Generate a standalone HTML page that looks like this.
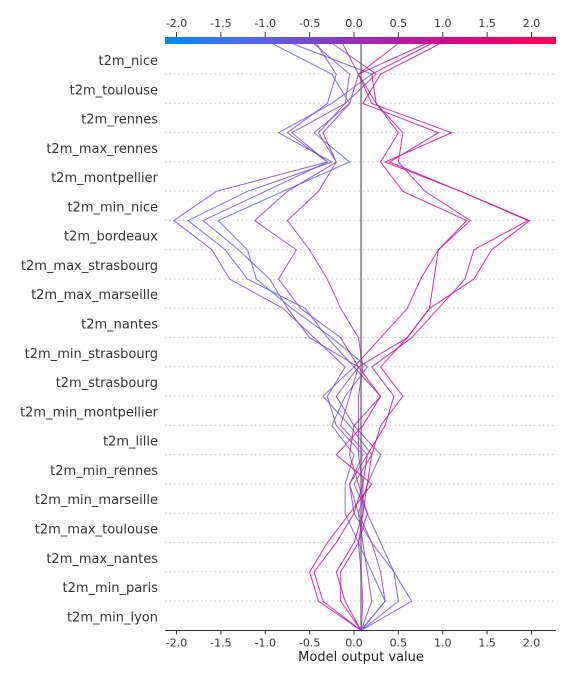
<!DOCTYPE html>
<html><head><meta charset="utf-8"><style>
body{margin:0;background:#fff;}
svg{display:block;font-family:"DejaVu Sans","Liberation Sans",sans-serif;}
</style></head><body>
<svg id="chart" width="576" height="684" viewBox="0 0 576 684">
<defs><linearGradient id="cb" x1="0" x2="1" y1="0" y2="0">
<stop offset="0" stop-color="#008bfb"/><stop offset="0.25" stop-color="#5a62e6"/><stop offset="0.5" stop-color="#9a2cb6"/><stop offset="0.75" stop-color="#d9068a"/><stop offset="1" stop-color="#ff0052"/></linearGradient></defs>
<g id="grid"></g><g id="labels"></g><g id="lines"></g><g id="axes"></g>
</svg>
<script>
const features=["t2m_nice","t2m_toulouse","t2m_rennes","t2m_max_rennes","t2m_montpellier","t2m_min_nice","t2m_bordeaux","t2m_max_strasbourg","t2m_max_marseille","t2m_nantes","t2m_min_strasbourg","t2m_strasbourg","t2m_min_montpellier","t2m_lille","t2m_min_rennes","t2m_min_marseille","t2m_max_toulouse","t2m_max_nantes","t2m_min_paris","t2m_min_lyon"];
const baseValue=0.08;
const ticks=[-2.0,-1.5,-1.0,-0.5,0.0,0.5,1.0,1.5,2.0];
// cumulative values, bottom to top; last entry is the final model output
const lineA=[0.35,0.3,0.2,0.0,-0.05,0.1,-0.2,-0.3,-0.1,-0.45,-0.8,-1.4,-1.6,-2.03,-1.55,-0.3,-0.75,-0.3,-0.2,-0.45];
const lineB=[0.5,0.45,0.3,0.15,0.0,0.2,-0.05,-0.35,0.0,-0.3,-0.55,-1.2,-1.45,-1.87,-1.2,-0.25,-0.85,-0.25,0.2,-0.8];
const lineC=[0.65,0.45,0.2,0.05,0.15,0.3,0.0,-0.2,0.05,-0.5,-0.75,-0.95,-1.3,-1.7,-1.0,-0.3,-0.7,-0.1,-0.05,-0.5];
const lineD=[0.35,0.2,0.05,-0.1,-0.1,0.0,-0.25,-0.1,0.15,-0.25,-0.7,-1.1,-1.2,-1.53,-0.8,-0.05,-0.45,-0.05,-0.25,-1.0];
const lineE=[0.2,0.15,0.1,0.05,-0.05,0.15,-0.15,-0.05,0.05,-0.15,-0.6,-0.85,-0.65,-1.12,-0.75,-0.2,-0.4,-0.1,0.25,-0.3];
const lineF=[0.1,0.08,0.05,0.1,0.1,0.05,0.05,0.05,0.1,0.05,-0.15,-0.3,-0.5,-0.75,-0.4,-0.2,-0.35,-0.05,0.05,-0.15];
const lineG=[-0.4,-0.5,-0.3,-0.05,0.2,-0.2,0.1,0.3,0.05,0.6,0.85,1.35,1.55,1.98,1.2,0.4,0.95,0.1,0.3,1.05];
const lineH=[-0.35,-0.45,-0.2,0.0,0.1,0.15,0.35,0.45,0.2,0.65,0.95,1.25,1.35,1.96,1.2,0.35,1.1,0.2,0.05,0.9];
const lineI=[-0.1,-0.2,0.0,0.1,0.15,0.2,0.3,0.55,0.3,0.6,0.85,0.9,0.95,1.27,0.55,0.3,0.5,0.25,0.2,0.95];
const lineJ=[-0.15,-0.15,0.05,0.15,0.05,-0.05,0.0,0.3,0.0,0.3,0.6,0.75,0.95,1.31,0.8,0.5,0.55,0.25,0.05,0.55];
const series=[lineA,lineB,lineC,lineD,lineE,lineF,lineG,lineH,lineI,lineJ];

const NS="http://www.w3.org/2000/svg";
const X0=165,X1=556,yTop=40,yBot=630.5;
const xS=v=>354+v*88.75;
const rowY=i=>60+i*29.28;
const step=29.28;
function mk(t,a,p){const e=document.createElementNS(NS,t);for(const k in a)e.setAttribute(k,a[k]);p.appendChild(e);return e;}
const grid=document.getElementById('grid'),labels=document.getElementById('labels'),lines=document.getElementById('lines'),axes=document.getElementById('axes');
features.forEach((f,i)=>{
  const y=rowY(i);
  if(i<features.length-1){
    const g=mk('line',{x1:X0,x2:X1,y1:y+14,y2:y+14,stroke:'#c8c8c8','stroke-dasharray':'1.5,3','stroke-width':1},grid);
    
    
  }
  const t=mk('text',{x:158,y:y+5,'text-anchor':'end','font-size':13,fill:'#333'},labels);
  t.textContent=f;
  
  
});
const bl=mk('line',{x1:xS(baseValue),x2:xS(baseValue),y1:yTop,y2:yBot,stroke:'#999','stroke-width':2},lines);


function col(v){
  const t=Math.max(0,Math.min(1,(v+2.1)/4.35));
  const stops=[[0,[0,139,251]],[0.25,[90,98,230]],[0.5,[154,44,182]],[0.75,[217,6,138]],[1,[255,0,82]]];
  for(let k=0;k<4;k++){const[a,ca]=stops[k],[b,cb]=stops[k+1];if(t<=b){const u=(t-a)/(b-a);return 'rgb('+ca.map((c,j)=>Math.round(c+(cb[j]-c)*u)).join(',')+')';}}
  return 'rgb(255,0,82)';
}
series.forEach((s,n)=>{
  const pts=[[xS(baseValue),yBot]];
  for(let k=0;k<s.length;k++){
    const y=(k===s.length-1)?yTop:(yBot-step*(k+1));
    pts.push([xS(s[k]),y]);
  }
  const p=mk('polyline',{points:pts.map(q=>q.join(',')).join(' '),fill:'none',stroke:col(s[s.length-1]),'stroke-width':1,opacity:0.85},lines);
  
  
});
const cbar=mk('rect',{x:X0,y:37,width:X1-X0,height:7,fill:'url(#cb)'},axes);


mk('line',{x1:X0,x2:X1,y1:yBot,y2:yBot,stroke:'#333','stroke-width':1},axes);
ticks.forEach(v=>{
  const x=xS(v);
  mk('line',{x1:x,x2:x,y1:yBot,y2:yBot+4,stroke:'#333'},axes);
  mk('line',{x1:x,x2:x,y1:32,y2:37,stroke:'#333'},axes);
  const t=mk('text',{x:x,y:yBot+16,'text-anchor':'middle','font-size':11,fill:'#333'},axes);
  t.textContent=v.toFixed(1);
  
  
  const t2=mk('text',{x:x,y:27,'text-anchor':'middle','font-size':11,fill:'#333'},axes);
  t2.textContent=v.toFixed(1);
  
  
});
const xt=mk('text',{x:361,y:661,'text-anchor':'middle','font-size':13,fill:'#222'},axes);
xt.textContent='Model output value';


</script>
</body></html>
